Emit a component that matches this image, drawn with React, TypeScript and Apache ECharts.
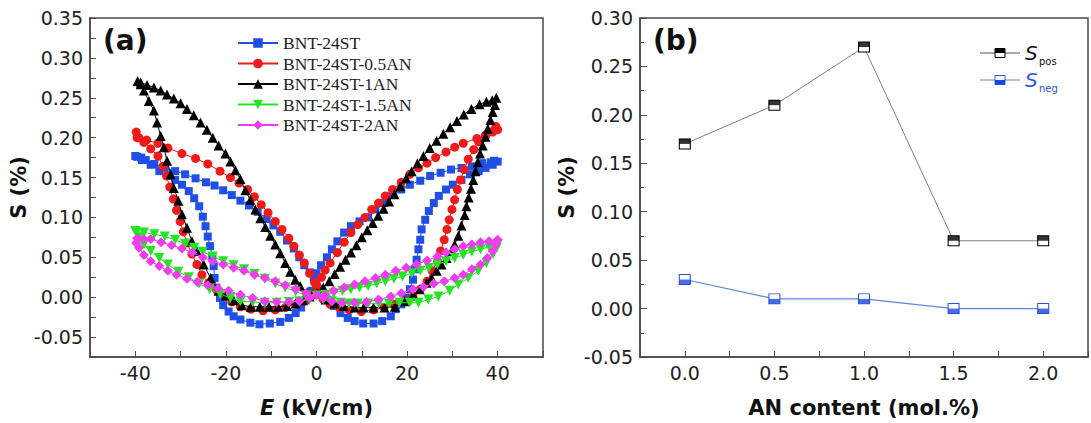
import React, { useEffect, useRef } from 'react';
import * as echarts from 'echarts';

// ---------- Panel (a): S–E loops ----------
const seriesNames = ['BNT-24ST', 'BNT-24ST-0.5AN', 'BNT-24ST-1AN', 'BNT-24ST-1.5AN', 'BNT-24ST-2AN'];
const seriesColors = ['#1f4fe6', '#f01a1a', '#000000', '#22e622', '#f03cf0'];
const seriesSymbols = ['rect', 'circle', 'triangle', 'triangle', 'diamond'];
const seriesSymbolRotate = [0, 0, 0, 180, 0];
const seriesSymbolSize = [8, 9, 10, 10, 10];

// Each loop in measurement order: 0 -> +40 -> 0 -> -40 -> 0  ([E kV/cm, S %])
const loopST: [number, number][] = [
  [0, 0.02], [0.8, 0.01], [2.3, -0.003], [3.8, -0.011], [5.3, -0.02], [6.9, -0.026], [8.4, -0.03], [10.3, -0.033],
  [12.6, -0.033], [14.5, -0.03], [16.4, -0.024], [17.5, -0.015], [18.7, -0.009], [19.8, -0.001], [20.6, 0.01],
  [21.3, 0.022], [21.7, 0.035], [22.1, 0.047], [22.5, 0.06], [22.9, 0.072], [23.2, 0.085], [24, 0.097], [24.8, 0.108],
  [25.9, 0.118], [27, 0.127], [28.6, 0.135], [30.1, 0.141], [32, 0.147], [33.9, 0.154], [35.8, 0.158], [37.3, 0.162],
  [38.9, 0.166], [40, 0.17],
  [39.2, 0.171], [38.5, 0.169], [36.6, 0.168], [34.3, 0.164], [32, 0.162], [29.7, 0.16], [27.4, 0.156], [25.1, 0.152],
  [22.9, 0.146], [20.6, 0.141], [18.7, 0.135], [16.8, 0.129], [14.9, 0.118], [13, 0.11], [11.4, 0.1], [9.5, 0.095],
  [7.6, 0.089], [6.1, 0.081], [4.6, 0.07], [3.4, 0.06], [2.3, 0.05], [1, 0.04], [0, 0.03],
  [-1.1, 0.008], [-2.3, -0.004], [-3.4, -0.013], [-4.6, -0.02], [-6.1, -0.026], [-8, -0.031], [-10.3, -0.033],
  [-12.6, -0.034], [-14.6, -0.032], [-16.8, -0.028], [-18.3, -0.024], [-19.4, -0.018], [-20.6, -0.01], [-21.3, -0.001],
  [-22.1, 0.012], [-22.5, 0.024], [-22.7, 0.039], [-23, 0.051], [-23.5, 0.064], [-24, 0.076], [-24.5, 0.089],
  [-25.1, 0.101], [-25.9, 0.114], [-27, 0.124], [-28.2, 0.133], [-29.7, 0.141], [-31.2, 0.147], [-32.8, 0.152],
  [-34.7, 0.158], [-36.6, 0.166], [-38.5, 0.172], [-39.6, 0.176],
  [-40, 0.177], [-38.7, 0.175], [-37.7, 0.172], [-35.8, 0.167], [-33.5, 0.162], [-31.2, 0.158], [-29, 0.154],
  [-26.7, 0.149], [-24.4, 0.144], [-22.5, 0.14], [-20.6, 0.134], [-18.7, 0.128], [-16.8, 0.121], [-14.9, 0.115],
  [-13, 0.107], [-11, 0.098], [-9.5, 0.09], [-8, 0.082], [-6.5, 0.071], [-5, 0.061], [-3.8, 0.05], [-2.7, 0.04],
  [-1.5, 0.031], [-0.6, 0.024],
];

const loop05AN: [number, number][] = [
  [0, 0.01], [1.5, -0.003], [3, -0.009], [5, -0.013], [7.2, -0.016], [9.9, -0.018], [12.6, -0.016], [14.9, -0.013],
  [17.1, -0.009], [19.4, -0.005], [21.3, 0.001], [22.9, 0.01], [24.4, 0.02], [25.5, 0.033], [26.7, 0.045], [27.4, 0.058],
  [28.2, 0.072], [28.8, 0.085], [29.3, 0.097], [29.9, 0.11], [30.5, 0.122], [31.1, 0.135], [31.8, 0.147], [32.6, 0.16],
  [33.5, 0.173], [34.7, 0.185], [35.8, 0.195], [37.3, 0.203], [38.9, 0.208], [39.6, 0.214], [40, 0.21],
  [38.9, 0.207], [37.3, 0.202], [35.4, 0.199], [32.4, 0.193], [30.5, 0.188], [28.6, 0.182], [26.3, 0.175],
  [24.4, 0.168], [22.5, 0.162], [20.6, 0.154], [18.7, 0.144], [16.8, 0.135], [15.2, 0.127], [13.7, 0.118],
  [12.2, 0.11], [10.7, 0.1], [9.1, 0.091], [7.6, 0.081], [6.1, 0.069], [4.6, 0.056], [3, 0.043], [1.9, 0.034],
  [1.1, 0.025], [0, 0.015],
  [-1.1, 0.003], [-2.7, -0.005], [-4.6, -0.009], [-6.9, -0.013], [-9.1, -0.016], [-11.8, -0.017], [-14.5, -0.015],
  [-16.8, -0.012], [-18.7, -0.006], [-20.1, 0.001], [-22, 0.009], [-23.8, 0.018], [-25.3, 0.028], [-26.4, 0.041],
  [-27.5, 0.054], [-28.6, 0.068], [-29.4, 0.082], [-30.1, 0.095], [-30.9, 0.109], [-31.6, 0.123], [-32.4, 0.138],
  [-33.1, 0.152], [-33.9, 0.164], [-35, 0.177], [-36.6, 0.186], [-38.1, 0.194], [-39.2, 0.2], [-39.8, 0.207],
  [-39.6, 0.2], [-37.5, 0.197], [-35, 0.193], [-32.8, 0.187], [-29.7, 0.18], [-26.7, 0.174], [-24, 0.167],
  [-21.3, 0.158], [-19, 0.15], [-17.1, 0.143], [-15.2, 0.135], [-13.7, 0.126], [-12.2, 0.116], [-10.7, 0.106],
  [-9.1, 0.095], [-7.6, 0.085], [-6.1, 0.074], [-5, 0.064], [-3.8, 0.053], [-2.7, 0.043], [-1.5, 0.03], [-0.4, 0.018],
];

const loop1AN: [number, number][] = [
  [0, 0.005], [2, -0.003], [4, -0.008], [6, -0.011], [8.4, -0.013], [10.4, -0.013], [12.6, -0.013], [15, -0.013],
  [17.3, -0.012], [19.5, -0.005], [21.4, 0.003], [22.8, 0.01], [24.3, 0.018], [25.4, 0.024], [26.5, 0.033],
  [27.6, 0.041], [28.7, 0.049], [29.8, 0.058], [30.5, 0.066], [31.3, 0.077], [32, 0.09], [32.7, 0.103], [33.1, 0.114],
  [33.6, 0.125], [34.1, 0.136], [34.6, 0.147], [35.1, 0.158], [35.6, 0.169], [36.1, 0.18], [36.7, 0.19], [37.3, 0.201],
  [37.8, 0.211], [38.4, 0.222], [38.9, 0.232], [39.4, 0.241], [39.7, 0.25],
  [38.8, 0.247], [37.5, 0.245], [36, 0.242], [34.2, 0.236], [32.5, 0.229], [31, 0.221], [29.5, 0.213], [28, 0.205],
  [26.5, 0.196], [25, 0.187], [23.6, 0.177], [22.3, 0.168], [21, 0.158], [19.8, 0.149], [18.5, 0.139], [17.2, 0.129],
  [16, 0.12], [14.8, 0.111], [13.6, 0.102], [12.4, 0.093], [11.2, 0.084], [10, 0.075], [8.8, 0.065], [7.6, 0.056],
  [6.4, 0.047], [5.2, 0.038], [4, 0.029], [2.8, 0.02], [1.5, 0.012], [0.3, 0.005],
  [-1.5, 0.001], [-3, -0.004], [-4.6, -0.008], [-6.5, -0.011], [-8.5, -0.012], [-10.5, -0.012], [-12.5, -0.012],
  [-14.5, -0.012], [-16.5, -0.01], [-18.3, -0.004], [-20, 0.002], [-21.6, 0.008], [-23.4, 0.024], [-24.9, 0.041],
  [-26.4, 0.058], [-27.5, 0.07], [-28.6, 0.087], [-29.7, 0.104], [-30.5, 0.121], [-31.5, 0.137], [-32.2, 0.154],
  [-33, 0.171], [-33.7, 0.188], [-34.4, 0.202], [-35.2, 0.219], [-35.9, 0.234], [-37, 0.246], [-38.1, 0.259],
  [-38.8, 0.267], [-39.5, 0.271],
  [-38.8, 0.269], [-37.4, 0.266], [-35.9, 0.263], [-34.4, 0.259], [-33, 0.254], [-31.5, 0.249], [-30, 0.243],
  [-28.6, 0.236], [-27.1, 0.228], [-25.6, 0.219], [-24.2, 0.21], [-22.9, 0.2], [-21.6, 0.19], [-20.1, 0.18],
  [-19, 0.17], [-17.9, 0.159], [-16.8, 0.148], [-15.7, 0.134], [-14.6, 0.122], [-13.5, 0.11], [-12.4, 0.099],
  [-11.3, 0.088], [-10.2, 0.077], [-9.1, 0.066], [-8, 0.055], [-6.9, 0.043], [-5.8, 0.032], [-4.7, 0.022],
  [-3.6, 0.014], [-2.1, 0.006], [-0.8, 0.004],
];

const loop15AN: [number, number][] = [
  [0, 0.002], [1.5, -0.003], [3.4, -0.005], [5.3, -0.007], [7.2, -0.008], [9.1, -0.008], [11.4, -0.008],
  [13.7, -0.008], [16, -0.008], [18.3, -0.007], [20.6, -0.007], [22.5, -0.007], [24.7, -0.003], [26.9, 0.001],
  [29.4, 0.008], [31.3, 0.016], [33.5, 0.024], [35.7, 0.033], [37.5, 0.043], [39, 0.054], [39.8, 0.062],
  [40, 0.066], [38.1, 0.063], [36.2, 0.06], [34.3, 0.057], [32.4, 0.053], [30.5, 0.049], [28.6, 0.045], [26.7, 0.041],
  [24.8, 0.037], [22.9, 0.033], [21, 0.03], [19, 0.026], [17.1, 0.023], [15.2, 0.02], [13.3, 0.017], [11.4, 0.014],
  [9.5, 0.012], [7.6, 0.01], [5.7, 0.008], [3.8, 0.005], [1.9, 0.003],
  [-1.5, -0.003], [-3.8, -0.005], [-6.1, -0.006], [-8.8, -0.007], [-11.4, -0.007], [-14.1, -0.006], [-16.8, -0.005],
  [-19, -0.001], [-21.3, 0.004], [-23.6, 0.01], [-25.9, 0.017], [-28.2, 0.025], [-30.5, 0.032], [-32.8, 0.041],
  [-34.7, 0.049], [-36.6, 0.058], [-38.1, 0.066], [-39.2, 0.075], [-39.8, 0.081],
  [-40, 0.083], [-38.1, 0.081], [-35.8, 0.079], [-33.5, 0.076], [-31.2, 0.072], [-29, 0.067], [-27, 0.062],
  [-25.1, 0.057], [-22.9, 0.051], [-20.6, 0.045], [-18.3, 0.04], [-16, 0.035], [-13.7, 0.029], [-11.4, 0.023],
  [-9.1, 0.017], [-6.9, 0.012], [-4.6, 0.007], [-2.3, 0.002],
];

const loop2AN: [number, number][] = [
  [0, 0.003], [1.5, -0.001], [3.4, -0.005], [5.7, -0.007], [8.4, -0.007], [11, -0.006], [13.7, -0.003], [16.4, 0.001],
  [18.7, 0.005], [21.3, 0.01], [23.6, 0.013], [25.9, 0.017], [28.2, 0.02], [30.5, 0.024], [32.4, 0.028],
  [34.3, 0.035], [36.2, 0.041], [37.7, 0.049], [38.9, 0.058], [39.6, 0.066],
  [40, 0.072], [38.1, 0.07], [36.2, 0.069], [34.3, 0.066], [32.4, 0.064], [30.5, 0.06], [28.6, 0.056], [26.7, 0.051],
  [24.4, 0.046], [22.1, 0.041], [19.8, 0.037], [17.5, 0.033], [15.2, 0.028], [13, 0.024], [10.7, 0.02], [8.4, 0.016],
  [6.1, 0.012], [3.8, 0.008], [1.9, 0.003],
  [-1.5, -0.001], [-3.8, -0.005], [-6.1, -0.006], [-8.8, -0.006], [-11.4, -0.005], [-14.1, -0.001], [-16.8, 0.003],
  [-19.4, 0.008], [-21.7, 0.011], [-24, 0.015], [-26.3, 0.019], [-28.6, 0.023], [-30.9, 0.028], [-32.8, 0.033],
  [-34.7, 0.039], [-36.6, 0.045], [-38.1, 0.053], [-39.2, 0.062], [-39.8, 0.068],
  [-39.6, 0.074], [-38.1, 0.073], [-36.6, 0.073], [-34.3, 0.069], [-32, 0.065], [-29.7, 0.061], [-27.4, 0.056],
  [-25.1, 0.05], [-22.9, 0.045], [-20.6, 0.041], [-18.3, 0.037], [-16, 0.033], [-13.7, 0.028], [-11.4, 0.024],
  [-9.1, 0.02], [-6.9, 0.015], [-4.6, 0.01], [-2.3, 0.005],
];

const loops = [loopST, loop05AN, loop1AN, loop15AN, loop2AN];

// ---------- Panel (b): S vs AN content ----------
const anContent = [0.0, 0.5, 1.0, 1.5, 2.0];
const sPos = [0.17, 0.21, 0.27, 0.07, 0.07];
const sNeg = [0.03, 0.01, 0.01, 0.0, 0.0];

const FONT = '"DejaVu Sans", "Liberation Sans", Arial, sans-serif';
const SERIF = '"Liberation Serif", "Times New Roman", serif';
const FRAME = '#4a4a4a';

export default function App() {
  const ref = useRef<HTMLDivElement>(null);

  useEffect(() => {
    if (!ref.current) return;
    const chart = echarts.init(ref.current, undefined, { renderer: 'svg' });

    const tickLabel = { color: '#222', fontSize: 19, fontFamily: FONT };
    const axisTitle = { color: '#111', fontSize: 21, fontWeight: 'bold' as const, fontFamily: FONT };
    const axisLine = { show: true, onZero: false, lineStyle: { color: FRAME, width: 1.5 } };

    const seriesA = loops.map((d, i) => ({
      name: seriesNames[i],
      type: 'line',
      xAxisIndex: 0,
      yAxisIndex: 0,
      data: d,
      symbol: seriesSymbols[i],
      symbolSize: seriesSymbolSize[i],
      symbolRotate: seriesSymbolRotate[i],
      showAllSymbol: true,
      lineStyle: { color: seriesColors[i], width: 1 },
      itemStyle: { color: seriesColors[i] },
      z: 2 + i,
    }));

    const posData = anContent.map((x, i) => [x, sPos[i]]);
    const negData = anContent.map((x, i) => [x, sNeg[i]]);

    const option: any = {
      animation: false,
      backgroundColor: '#ffffff',
      grid: [
        { left: 90, top: 18, width: 453, height: 339, show: true, borderColor: FRAME, borderWidth: 1.5, backgroundColor: 'transparent' },
        { left: 640, top: 18, width: 453, height: 339, show: true, borderColor: FRAME, borderWidth: 1.5, backgroundColor: 'transparent' },
      ],
      legend: {
        data: seriesNames,
        orient: 'vertical',
        left: 232,
        top: 29,
        itemWidth: 40,
        itemHeight: 12,
        itemGap: 2.5,
        textStyle: { fontFamily: SERIF, fontSize: 17.5, color: '#222' },
      },
      xAxis: [
        {
          type: 'value', gridIndex: 0, min: -50, max: 50, interval: 10,
          axisLine,
          axisTick: { inside: true, length: 6, lineStyle: { color: FRAME } },
          splitLine: { show: false },
          axisLabel: {
            ...tickLabel, margin: 6,
            formatter: (v: number) => (Math.round(v) % 20 === 0 && Math.abs(v) <= 40 ? String(Math.round(v)) : ''),
          },
          name: '{i|E} (kV/cm)', nameLocation: 'middle', nameGap: 40,
          nameTextStyle: { ...axisTitle, rich: { i: { ...axisTitle, fontStyle: 'italic' } } },
        },
        {
          type: 'value', gridIndex: 1, min: -0.25, max: 2.25, interval: 0.25,
          axisLine,
          axisTick: { inside: true, length: 6, lineStyle: { color: FRAME } },
          splitLine: { show: false },
          axisLabel: {
            ...tickLabel, margin: 6,
            formatter: (v: number) => {
              const k = Math.round(v * 100);
              return k % 50 === 0 && v >= 0 && v <= 2 ? v.toFixed(1) : '';
            },
          },
          name: 'AN content (mol.%)', nameLocation: 'middle', nameGap: 40,
          nameTextStyle: axisTitle,
        },
      ],
      yAxis: [
        {
          type: 'value', gridIndex: 0, min: -0.075, max: 0.35, interval: 0.025,
          axisLine,
          axisTick: { inside: true, length: 6, lineStyle: { color: FRAME } },
          splitLine: { show: false },
          axisLabel: {
            ...tickLabel, margin: 7,
            formatter: (v: number) => {
              const k = Math.round(v * 1000);
              return k % 50 === 0 ? (k / 1000).toFixed(2) : '';
            },
          },
          name: 'S (%)', nameLocation: 'middle', nameGap: 60, nameRotate: 90,
          nameTextStyle: axisTitle,
        },
        {
          type: 'value', gridIndex: 1, min: -0.05, max: 0.3, interval: 0.05,
          axisLine,
          axisTick: { inside: true, length: 7, lineStyle: { color: FRAME } },
          minorTick: { show: true, splitNumber: 2, length: 4, lineStyle: { color: FRAME } },
          splitLine: { show: false },
          axisLabel: { ...tickLabel, margin: 7, formatter: (v: number) => v.toFixed(2) },
          name: 'S (%)', nameLocation: 'middle', nameGap: 63, nameRotate: 90,
          nameTextStyle: axisTitle,
        },
      ],
      series: [
        ...seriesA,
        {
          name: 'Spos', type: 'line', xAxisIndex: 1, yAxisIndex: 1, data: posData,
          symbol: 'rect', symbolSize: [11, 10],
          lineStyle: { color: '#808080', width: 1 },
          itemStyle: { color: '#ffffff', borderColor: '#000000', borderWidth: 1 },
          z: 2,
        },
        {
          name: 'SposFill', type: 'scatter', xAxisIndex: 1, yAxisIndex: 1, data: posData,
          symbol: 'rect', symbolSize: [11, 5], symbolOffset: [0, -2.5],
          itemStyle: { color: '#000000' }, z: 3,
        },
        {
          name: 'Sneg', type: 'line', xAxisIndex: 1, yAxisIndex: 1, data: negData,
          symbol: 'rect', symbolSize: [11, 10],
          lineStyle: { color: '#5f86e0', width: 1.2 },
          itemStyle: { color: '#ffffff', borderColor: '#2a56d8', borderWidth: 1 },
          z: 2,
        },
        {
          name: 'SnegFill', type: 'scatter', xAxisIndex: 1, yAxisIndex: 1, data: negData,
          symbol: 'rect', symbolSize: [11, 5], symbolOffset: [0, 2.5],
          itemStyle: { color: '#1a47d8' }, z: 3,
        },
      ],
      graphic: [
        { type: 'text', left: 103, top: 26, style: { text: '(a)', font: `bold 28px ${FONT}`, fill: '#111' } },
        { type: 'text', left: 653, top: 26, style: { text: '(b)', font: `bold 28px ${FONT}`, fill: '#111' } },
        // legend of panel (b)
        { type: 'line', shape: { x1: 980, y1: 53, x2: 1020, y2: 53 }, style: { stroke: '#555', lineWidth: 1 } },
        { type: 'rect', shape: { x: 995, y: 48.5, width: 10, height: 9 }, style: { fill: '#fff', stroke: '#000', lineWidth: 1 } },
        { type: 'rect', shape: { x: 995, y: 48.5, width: 10, height: 4.5 }, style: { fill: '#000' } },
        { type: 'text', x: 1025, y: 53, style: { text: 'S', font: `italic 20px ${FONT}`, fill: '#111', verticalAlign: 'middle' } },
        { type: 'text', x: 1039, y: 61, style: { text: 'pos', font: `10px ${FONT}`, fill: '#111', verticalAlign: 'middle' } },
        { type: 'line', shape: { x1: 980, y1: 80, x2: 1020, y2: 80 }, style: { stroke: '#5f86e0', lineWidth: 1.2 } },
        { type: 'rect', shape: { x: 995, y: 75.5, width: 10, height: 9 }, style: { fill: '#fff', stroke: '#2a56d8', lineWidth: 1 } },
        { type: 'rect', shape: { x: 995, y: 80, width: 10, height: 4.5 }, style: { fill: '#1a47d8' } },
        { type: 'text', x: 1025, y: 80, style: { text: 'S', font: `italic 20px ${FONT}`, fill: '#2a56d8', verticalAlign: 'middle' } },
        { type: 'text', x: 1039, y: 88, style: { text: 'neg', font: `10px ${FONT}`, fill: '#2a56d8', verticalAlign: 'middle' } },
      ],
    };

    chart.setOption(option);
    return () => chart.dispose();
  }, []);

  return (
    <div
      ref={ref}
      style={{ position: 'fixed', left: 0, top: 0, width: 1091, height: 423, background: '#fff' }}
    />
  );
}
